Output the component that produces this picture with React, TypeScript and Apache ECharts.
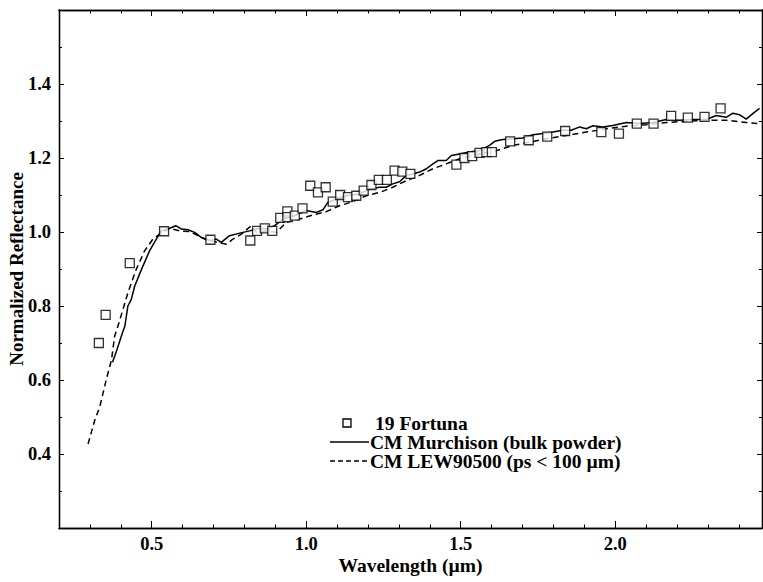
import React, { useEffect, useRef } from "react";
import * as echarts from "echarts";

// 19 Fortuna telescopic spectrum (normalized reflectance)
const fortunaWavelength = [
  0.329, 0.351, 0.429, 0.54, 0.69, 0.819, 0.841, 0.866, 0.89, 0.916, 0.939, 0.939,
  0.963, 0.988, 1.013, 1.038, 1.063, 1.086, 1.11, 1.135, 1.162, 1.186, 1.211, 1.235,
  1.261, 1.286, 1.311, 1.337, 1.486, 1.512, 1.537, 1.561, 1.583, 1.601, 1.66, 1.72,
  1.78, 1.838, 1.955, 2.012, 2.07, 2.124, 2.181, 2.235, 2.289, 2.341,
];
const fortunaReflectance = [
  0.7, 0.776, 0.916, 1.002, 0.979, 0.977, 1.003, 1.01, 1.003, 1.038, 1.056, 1.04,
  1.044, 1.064, 1.125, 1.107, 1.121, 1.082, 1.1, 1.094, 1.098, 1.112, 1.127, 1.141,
  1.141, 1.166, 1.163, 1.157, 1.182, 1.2, 1.205, 1.214, 1.216, 1.216, 1.245, 1.248,
  1.258, 1.273, 1.27, 1.266, 1.293, 1.293, 1.314, 1.309, 1.311, 1.334,
];

// CM Murchison, bulk powder
const murchisonWavelength = [
  0.373, 0.386, 0.407, 0.413, 0.423, 0.434, 0.445, 0.467, 0.493, 0.515, 0.531, 0.558,
  0.578, 0.596, 0.617, 0.639, 0.661, 0.688, 0.709, 0.725, 0.752, 0.785, 0.817, 0.849,
  0.871, 0.898, 0.925, 0.957, 1.0, 1.033, 1.054, 1.07, 1.097, 1.13, 1.173, 1.205,
  1.238, 1.259, 1.28, 1.302, 1.324, 1.345, 1.367, 1.389, 1.41, 1.426, 1.453, 1.47,
  1.496, 1.529, 1.561, 1.593, 1.61, 1.636, 1.669, 1.701, 1.734, 1.766, 1.798, 1.831,
  1.858, 1.885, 1.906, 1.928, 1.96, 1.992, 2.036, 2.079, 2.122, 2.165, 2.208, 2.251,
  2.295, 2.327, 2.359, 2.381, 2.402, 2.424, 2.445, 2.467,
];
const murchisonReflectance = [
  0.648, 0.678, 0.732, 0.745, 0.8, 0.818, 0.854, 0.899, 0.949, 0.981, 1.003, 1.01,
  1.017, 1.008, 1.006, 0.999, 0.985, 0.977, 0.981, 0.972, 0.99, 0.997, 1.003, 1.01,
  1.008, 1.017, 1.035, 1.042, 1.058, 1.053, 1.06, 1.08, 1.089, 1.098, 1.103, 1.116,
  1.121, 1.121, 1.13, 1.136, 1.153, 1.157, 1.162, 1.171, 1.184, 1.193, 1.193, 1.207,
  1.211, 1.216, 1.22, 1.234, 1.245, 1.25, 1.252, 1.254, 1.263, 1.266, 1.27, 1.275,
  1.275, 1.284, 1.279, 1.287, 1.284, 1.288, 1.296, 1.293, 1.296, 1.304, 1.302, 1.304,
  1.304, 1.315, 1.31, 1.321, 1.317, 1.305, 1.32, 1.334,
];

// CM LEW90500, particle size < 100 µm
const lewWavelength = [
  0.294, 0.316, 0.332, 0.353, 0.37, 0.38, 0.396, 0.423, 0.45, 0.477, 0.504, 0.526,
  0.558, 0.59, 0.623, 0.65, 0.677, 0.714, 0.742, 0.763, 0.79, 0.822, 0.839, 0.871,
  0.903, 0.936, 0.979, 1.022, 1.065, 1.108, 1.151, 1.194, 1.238, 1.28, 1.324, 1.367,
  1.41, 1.453, 1.496, 1.561, 1.615, 1.669, 1.723, 1.777, 1.842, 1.906, 1.971, 2.036,
  2.1, 2.165, 2.23, 2.295, 2.359, 2.424, 2.467,
];
const lewReflectance = [
  0.427, 0.492, 0.528, 0.601, 0.655, 0.718, 0.76, 0.836, 0.899, 0.949, 0.981, 0.994,
  1.01, 1.003, 1.001, 0.99, 0.979, 0.972, 0.967, 0.981, 0.994, 1.017, 0.999, 1.003,
  0.999, 1.026, 1.035, 1.046, 1.055, 1.071, 1.082, 1.098, 1.107, 1.121, 1.139, 1.153,
  1.171, 1.184, 1.198, 1.211, 1.22, 1.234, 1.243, 1.252, 1.261, 1.27, 1.279, 1.286,
  1.29, 1.296, 1.299, 1.302, 1.302, 1.296, 1.293,
];

// Axis ticks
const xMajorTicks = [0.5, 1.0, 1.5, 2.0];
const xMinorTicks = [0.3, 0.4, 0.6, 0.7, 0.8, 0.9, 1.1, 1.2, 1.3, 1.4, 1.6, 1.7, 1.8, 1.9, 2.1, 2.2, 2.3, 2.4];
const yMajorTicks = [0.4, 0.6, 0.8, 1.0, 1.2, 1.4];
const yMinorTicks = [0.3, 0.5, 0.7, 0.9, 1.1, 1.3, 1.5];

const legendLabels = ["19 Fortuna", "CM Murchison (bulk powder)", "CM LEW90500 (ps < 100 \u00b5m)"];

const FONT = "'Liberation Serif', 'Times New Roman', serif";
const X_MIN = 0.2;
const X_MAX = 2.475;
const Y_MIN = 0.2;
const Y_MAX = 1.6;

const zip = (xs: number[], ys: number[]) => xs.map((x, i) => [x, ys[i]]);

function xAxisDef(position: "bottom" | "top", ticks: number[], len: number, labelled: boolean) {
  return {
    type: "value",
    position,
    offset: 0,
    min: X_MIN,
    max: X_MAX,
    name: labelled ? "Wavelength (\u00b5m)" : "",
    nameLocation: "middle",
    nameGap: 27,
    nameMoveOverlap: false,
    nameTextStyle: { fontFamily: FONT, fontWeight: "bold", fontSize: 19.5, color: "#000" },
    axisLine: { show: true, lineStyle: { color: "#000", width: 1.3 } },
    splitLine: { show: false },
    axisTick: {
      show: true,
      inside: true,
      length: len,
      customValues: ticks,
      lineStyle: { color: "#000", width: 1 },
    },
    axisLabel: {
      show: labelled,
      customValues: ticks,
      formatter: (v: number) => v.toFixed(1),
      fontFamily: FONT,
      fontWeight: "bold",
      fontSize: 18.5,
      color: "#000",
      margin: 6,
    },
  };
}

function yAxisDef(position: "left" | "right", ticks: number[], len: number, labelled: boolean) {
  return {
    type: "value",
    position,
    offset: 0,
    min: Y_MIN,
    max: Y_MAX,
    name: labelled ? "Normalized Reflectance" : "",
    nameLocation: "middle",
    nameGap: 33,
    nameMoveOverlap: false,
    nameTextStyle: { fontFamily: FONT, fontWeight: "bold", fontSize: 19, color: "#000" },
    axisLine: { show: true, lineStyle: { color: "#000", width: 1.3 } },
    splitLine: { show: false },
    axisTick: {
      show: true,
      inside: true,
      length: len,
      customValues: ticks,
      lineStyle: { color: "#000", width: 1 },
    },
    axisLabel: {
      show: labelled,
      customValues: ticks,
      formatter: (v: number) => v.toFixed(1),
      fontFamily: FONT,
      fontWeight: "bold",
      fontSize: 18.5,
      color: "#000",
      margin: 8,
    },
  };
}

export default function App() {
  const ref = useRef<HTMLDivElement>(null);

  useEffect(() => {
    document.body.style.margin = "0";
    if (!ref.current) return;
    const chart = echarts.init(ref.current, null, { renderer: "svg" });

    const legendText = {
      fontFamily: FONT,
      fontWeight: "bold",
      fontSize: 19.5,
      fill: "#000",
      verticalAlign: "middle",
    };

    chart.setOption({
      animation: false,
      backgroundColor: "#fff",
      grid: {
        left: 59,
        right: 1,
        top: 10,
        bottom: 54,
        containLabel: false,
        outerBoundsMode: "none",
      },
      xAxis: [
        xAxisDef("bottom", xMajorTicks, 7, true),
        xAxisDef("bottom", xMinorTicks, 3.5, false),
        xAxisDef("top", xMajorTicks, 6, false),
        xAxisDef("top", xMinorTicks, 3.5, false),
      ],
      yAxis: [
        yAxisDef("left", yMajorTicks, 5, true),
        yAxisDef("left", yMinorTicks, 3, false),
        yAxisDef("right", yMajorTicks, 5, false),
        yAxisDef("right", yMinorTicks, 3, false),
      ],
      series: [
        {
          name: legendLabels[1],
          type: "line",
          xAxisIndex: 0,
          yAxisIndex: 0,
          data: zip(murchisonWavelength, murchisonReflectance),
          showSymbol: false,
          symbol: "none",
          lineStyle: { color: "#000", width: 1.5 },
          z: 2,
        },
        {
          name: legendLabels[2],
          type: "line",
          xAxisIndex: 0,
          yAxisIndex: 0,
          data: zip(lewWavelength, lewReflectance),
          showSymbol: false,
          symbol: "none",
          lineStyle: { color: "#000", width: 1.5, type: [6, 4] },
          z: 2,
        },
        {
          name: legendLabels[0],
          type: "scatter",
          xAxisIndex: 0,
          yAxisIndex: 0,
          data: zip(fortunaWavelength, fortunaReflectance),
          symbol: "rect",
          symbolSize: 9,
          itemStyle: { color: "#fff", borderColor: "#000", borderWidth: 1.3 },
          z: 3,
        },
      ],
      graphic: [
        {
          type: "rect",
          shape: { x: 343, y: 419, width: 8, height: 8 },
          style: { fill: "#fff", stroke: "#000", lineWidth: 1.3 },
        },
        {
          type: "text",
          x: 375,
          y: 423,
          style: { ...legendText, text: legendLabels[0] },
        },
        {
          type: "line",
          shape: { x1: 330, y1: 442, x2: 369, y2: 442 },
          style: { stroke: "#000", lineWidth: 1.5 },
        },
        {
          type: "text",
          x: 370,
          y: 442,
          style: { ...legendText, text: legendLabels[1] },
        },
        {
          type: "line",
          shape: { x1: 330, y1: 461, x2: 369, y2: 461 },
          style: { stroke: "#000", lineWidth: 1.5, lineDash: [5, 3] },
        },
        {
          type: "text",
          x: 370,
          y: 461,
          style: { ...legendText, text: legendLabels[2] },
        },
      ],
    });

    return () => chart.dispose();
  }, []);

  return <div ref={ref} style={{ width: 763, height: 582 }} />;
}
